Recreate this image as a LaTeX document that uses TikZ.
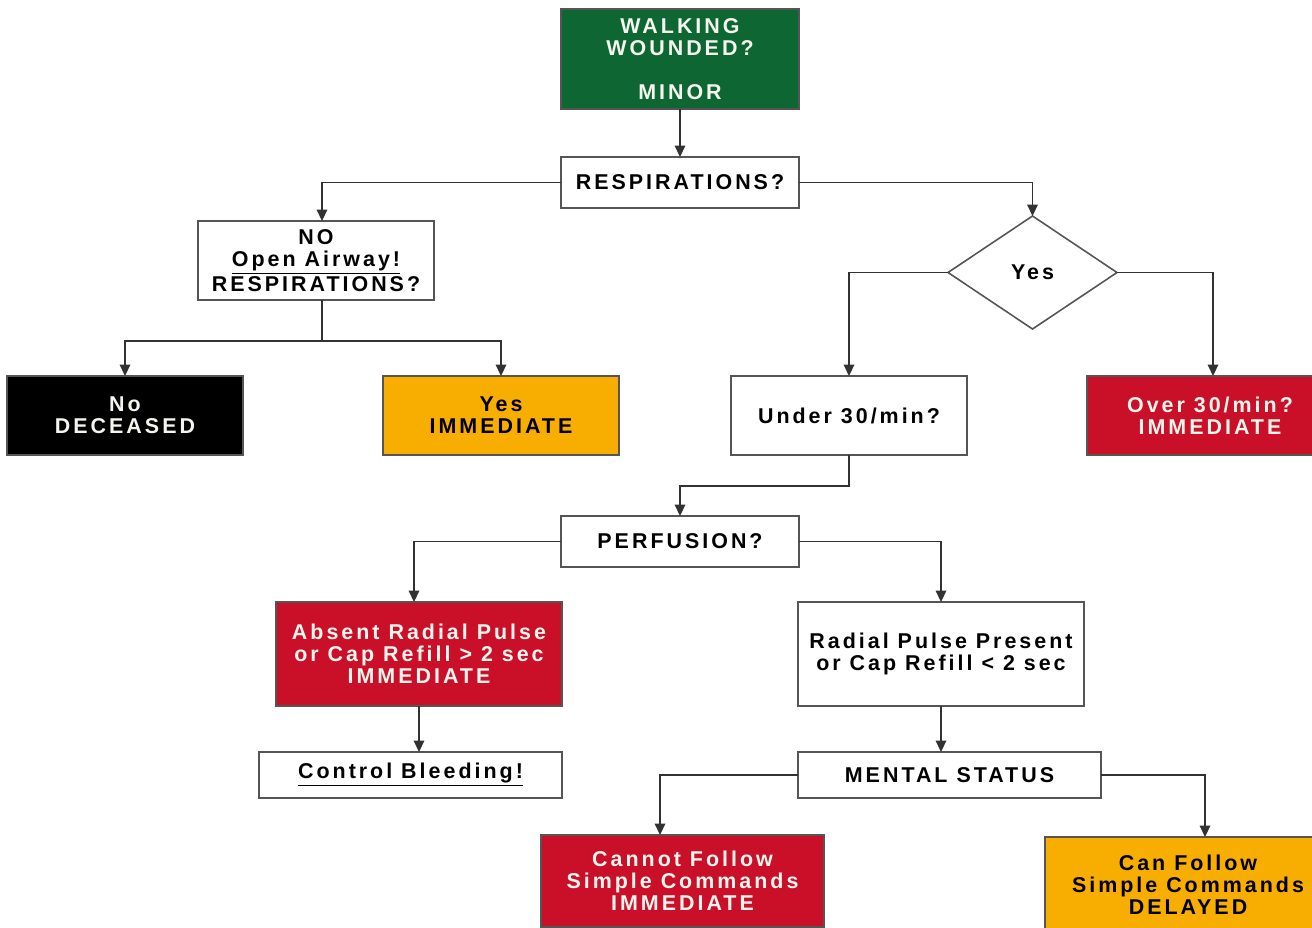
\documentclass[tikz,border=0pt]{standalone}
\usepackage{fontspec}
\setmainfont[LetterSpace=14]{Liberation Sans}
\usetikzlibrary{shapes.geometric,arrows.meta}

\definecolor{mgreen}{RGB}{14,102,50}
\definecolor{mred}{RGB}{202,16,40}
\definecolor{morange}{RGB}{247,174,0}
\definecolor{boxline}{RGB}{85,85,85}
\definecolor{linecol}{RGB}{50,50,50}
\definecolor{softwhite}{RGB}{245,245,240}

\tikzset{
  sz/.style 2 args={minimum width=#1*0.02cm, minimum height=#2*0.02cm},
  box/.style={draw=boxline, line width=0.9pt, inner sep=0pt, outer sep=0pt,
    align=center, fill=white, text=black,
    font=\fontsize{12.2}{12.5}\selectfont\bfseries},
  greenbox/.style={box, fill=mgreen, text=softwhite},
  redbox/.style={box, fill=mred, text=softwhite},
  blackbox/.style={box, fill=black, text=softwhite},
  orangebox/.style={box, fill=morange, text=black},
  decision/.style={box, diamond, sz={169}{113}},
  ln/.style={draw=linecol, line width=0.9pt},
  arr/.style={ln, -{Triangle[length=6.5pt,width=6pt]}}
}

\begin{document}
\begin{tikzpicture}[x=0.02cm, y=-0.02cm]
\useasboundingbox (0,0) rectangle (1312,927);

% triage boxes
\node[greenbox, sz={238}{100}] (walk) at (680,59) {WALKING\\WOUNDED?\\[12.5pt]MINOR};
\node[box, sz={238}{51}] (resp) at (680,182.5) {RESPIRATIONS?};
\node[box, sz={236}{79}] (no) at (316,260.5) {NO\\\underline{Open Airway!}\\RESPIRATIONS?};
\node[blackbox, sz={236}{79}] (dec) at (125,415.5) {No\\DECEASED};
\node[orangebox, sz={236}{79}] (yesimm) at (501,415.5) {Yes\\IMMEDIATE};
\node[decision] (dia) at (1032.5,272.5) {Yes};
\node[box, sz={236}{79}] (under) at (849,415.5) {Under 30/min?};
\node[redbox, sz={246}{79}] (over) at (1210,415.5) {Over 30/min?\\IMMEDIATE};
\node[box, sz={238}{51}] (perf) at (680,541.5) {PERFUSION?};
\node[redbox, sz={286}{104}] (absent) at (419,654) {Absent Radial Pulse\\or Cap Refill > 2 sec\\IMMEDIATE};
\node[box, sz={286}{104}] (present) at (941,654) {Radial Pulse Present\\or Cap Refill < 2 sec};
\node[box, sz={303}{46}] (ctrl) at (410.5,775) {\underline{Control Bleeding!}};
\node[box, sz={303}{46}] (mental) at (949.5,775) {MENTAL STATUS};
\node[redbox, sz={283}{92}] (cannot) at (682.5,881) {Cannot Follow\\Simple Commands\\IMMEDIATE};
\node[orangebox, sz={286}{96}] (can) at (1188,885) {Can Follow\\Simple Commands\\DELAYED};

% connectors
\draw[arr] (walk) -- (resp);
\draw[arr] (resp.west) -| ([xshift=0.12cm]no.north);
\draw[arr] (resp.east) -| (dia.north);
\draw[ln] ([xshift=0.12cm]no.south) -- ++(0,41) coordinate (j1);
\draw[arr] (j1) -| (dec.north);
\draw[arr] (j1) -| (yesimm.north);
\draw[arr] (dia.west) -| (under.north);
\draw[arr] (dia.east) -| ([xshift=0.06cm]over.north);
\draw[arr] (under.south) -- ++(0,31) -| (perf.north);
\draw[arr] (perf.west) -| ([xshift=-0.1cm]absent.north);
\draw[arr] (perf.east) -| (present.north);
\draw[arr] (absent.south) -- (absent.south |- ctrl.north);
\draw[arr] (present.south) -- (present.south |- mental.north);
\draw[arr] (mental.west) -| ([xshift=-0.45cm]cannot.north);
\draw[arr] (mental.east) -| ([xshift=0.34cm]can.north);
\end{tikzpicture}
\end{document}
